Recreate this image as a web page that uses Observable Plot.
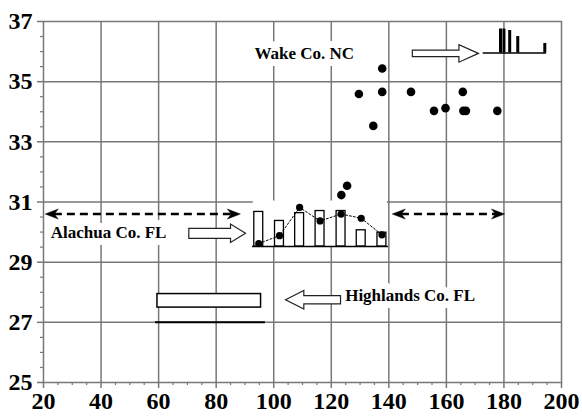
<!DOCTYPE html>
<html>
<head>
<meta charset="utf-8">
<script src="https://cdn.jsdelivr.net/npm/d3@7"></script>
<script src="https://cdn.jsdelivr.net/npm/@observablehq/plot@0.6"></script>
<style>
  html, body { margin: 0; padding: 0; background: #fff; }
</style>
</head>
<body>
<div id="chart"></div>
<script>
// ---- tick labels ----
const xTicks = [20, 40, 60, 80, 100, 120, 140, 160, 180, 200];
const yTicks = [25, 27, 29, 31, 33, 35, 37];
const xGrid = [40, 60, 80, 100, 120, 140, 160, 180];
const yGrid = [27, 29, 31, 33, 35];
const xMinor = d3.range(20, 201, 5).filter(v => v % 20 !== 0);
const yMinor = d3.range(25, 37.01, 0.5).filter(v => !yTicks.includes(v));

// ---- scattered points ----
const pointX = [123.5, 125.5, 129.6, 134.6, 137.7, 137.7, 147.7, 155.7, 159.7, 165.7, 165.9, 166.8, 177.7];
const pointY = [31.23, 31.54, 34.59, 33.53, 34.66, 35.44, 34.66, 34.03, 34.12, 34.66, 34.03, 34.03, 34.03];

// ---- Alachua Co. FL inset ----
const alachuaX = [94.8, 102.0, 109.0, 116.1, 123.4, 130.4, 137.6];
const alachuaDot = [29.62, 29.88, 30.82, 30.37, 30.60, 30.46, 29.91];
const alachuaBar = [30.67, 30.37, 30.63, 30.70, 30.70, 30.06, 29.98];
const alachuaBase = 29.52;
const alachuaBaseRange = [92.6, 139.9];
const alachuaInsetTop = 31;

// ---- Wake Co. NC inset ----
const wakeHistX = [178.8, 180.0, 182.0, 184.8, 194.2];
const wakeHistTop = [36.75, 36.75, 36.70, 36.50, 36.27];
const wakeHistBase = 35.95;
const wakeBaseRange = [172.8, 194.8];

// ---- Highlands Co. FL ----
const highlandsBoxX = [59.6, 95.6];
const highlandsBoxY = [27.49, 27.94];
const highlandsLineX = [58.9, 97.1];
const highlandsLineY = 27.0;

// ---- dashed ranges ----
const dashedY = 30.6;
const dashedRanges = [[20.6, 88.4], [141.2, 180.2]];

// ---- labels and arrows ----
const labelText = ["Wake Co. NC", "Alachua Co. FL", "Highlands Co. FL"];
const labelX = [110.6, 42.6, 147.4];
const labelY = [35.92, 30.0, 27.88];
const arrowTipX = [171.1, 90.2, 104.1];
const arrowTipY = [35.94, 29.96, 27.75];

// ---- build tables ----
const points = pointX.map((x, i) => ({x, y: pointY[i]}));
const alachua = alachuaX.map((x, i) => ({x, dot: alachuaDot[i], bar: alachuaBar[i]}));
const wakeHist = wakeHistX.map((x, i) => ({x, top: wakeHistTop[i]}));
const labels = labelText.map((t, i) => ({t, x: labelX[i], y: labelY[i]}));
const dashed = dashedRanges.map(([a, b]) => ({a, b}));

// ---- custom symbols (styles) ----
function blockArrow(L, H, A, B, dir) {
  const s = dir;
  return {
    draw(ctx) {
      ctx.moveTo(0, 0);
      ctx.lineTo(-s * H, -A);
      ctx.lineTo(-s * H, -B);
      ctx.lineTo(-s * L, -B);
      ctx.lineTo(-s * L, B);
      ctx.lineTo(-s * H, B);
      ctx.lineTo(-s * H, A);
      ctx.closePath();
    }
  };
}
function stealth(dir) {
  const s = dir;
  return {
    draw(ctx) {
      ctx.moveTo(0, 0);
      ctx.lineTo(-s * 13, -5);
      ctx.lineTo(-s * 9, 0);
      ctx.lineTo(-s * 13, 5);
      ctx.closePath();
    }
  };
}
const arrowShapes = [
  blockArrow(66, 19.4, 8.8, 3.3, 1),
  blockArrow(56.7, 15, 9.2, 5, 1),
  blockArrow(55, 18.3, 9.2, 4.2, -1)
];

const gray = "#777777";
const barW = 3.1;
const wakeBarPx = 3;

const arrowMarks = arrowTipX.map((x, i) => Plot.dot([{x, y: arrowTipY[i]}], {
  x: "x", y: "y", r: 5, symbol: arrowShapes[i], fill: "white", stroke: "#222", strokeWidth: 1.2
}));

const chart = Plot.plot({
  width: 582,
  height: 417,
  marginLeft: 43,
  marginRight: 21,
  marginTop: 21,
  marginBottom: 35,
  x: {domain: [20, 200]},
  y: {domain: [25, 37]},
  style: {fontFamily: "'Liberation Serif', 'Times New Roman', serif", background: "white", color: "black"},
  marks: [
    Plot.gridX({ticks: xGrid, stroke: gray, strokeOpacity: 1, strokeWidth: 1.5}),
    Plot.gridY({ticks: yGrid, stroke: gray, strokeOpacity: 1, strokeWidth: 1.5}),
    // Alachua inset white background
    Plot.rect([alachua], {
      x1: d => d3.min(d, e => e.x) - barW / 2,
      x2: d => d3.max(d, e => e.x) + barW / 2,
      y1: () => alachuaBase, y2: () => alachuaInsetTop,
      fill: "white", inset: -1
    }),
    // labels with white halo
    Plot.text(labels, {
      x: "x", y: "y", text: "t", fontSize: 17, fontWeight: "bold",
      fill: "black", stroke: "white", strokeWidth: 14, strokeLinejoin: "round"
    }),
    // Alachua bars
    Plot.rect(alachua, {
      x1: d => d.x - barW / 2, x2: d => d.x + barW / 2,
      y1: () => alachuaBase, y2: "bar",
      fill: "white", stroke: "black", strokeWidth: 1.3
    }),
    Plot.ruleY([alachuaBase], {x1: alachuaBaseRange[0], x2: alachuaBaseRange[1], stroke: "black", strokeWidth: 1.5}),
    Plot.line(alachua, {x: "x", y: "dot", stroke: "black", strokeWidth: 1, strokeDasharray: "2,2"}),
    Plot.dot(alachua, {x: "x", y: "dot", r: 3.6, fill: "black"}),
    // Wake histogram
    Plot.ruleY([wakeHistBase], {x1: wakeBaseRange[0], x2: wakeBaseRange[1], stroke: "black", strokeWidth: 1.5}),
    Plot.ruleX(wakeHist, {x: "x", y1: () => wakeHistBase, y2: "top", stroke: "black", strokeWidth: wakeBarPx}),
    // Highlands
    Plot.rect([0], {
      x1: () => highlandsBoxX[0], x2: () => highlandsBoxX[1],
      y1: () => highlandsBoxY[0], y2: () => highlandsBoxY[1],
      fill: "white", stroke: "black", strokeWidth: 1.5
    }),
    Plot.ruleY([highlandsLineY], {x1: highlandsLineX[0], x2: highlandsLineX[1], stroke: "black", strokeWidth: 2}),
    // dashed double arrows
    Plot.link(dashed, {x1: d => d.a + 3, x2: d => d.b - 3, y1: () => dashedY, y2: () => dashedY,
      stroke: "black", strokeWidth: 2.5, strokeDasharray: "8,5"}),
    Plot.dot(dashed, {x: "a", y: () => dashedY, r: 5, symbol: stealth(-1), fill: "black", stroke: "black", strokeWidth: 0.5}),
    Plot.dot(dashed, {x: "b", y: () => dashedY, r: 5, symbol: stealth(1), fill: "black", stroke: "black", strokeWidth: 0.5}),
    // block arrows
    ...arrowMarks,
    // points
    Plot.dot(points, {x: "x", y: "y", r: 4.3, fill: "black"}),
    // frame & axes
    Plot.frame({stroke: gray, strokeWidth: 1.5}),
    Plot.axisY({ticks: yMinor, tickSize: 3, tickFormat: () => "", stroke: gray, strokeWidth: 1.2}),
    Plot.axisX({ticks: xMinor, tickSize: 3, tickFormat: () => "", stroke: gray, strokeWidth: 1.2}),
    Plot.axisY({ticks: yTicks, tickSize: 6, tickPadding: 5, fontSize: 24, fontWeight: "bold", stroke: gray, strokeWidth: 1.5, fill: "black"}),
    Plot.axisX({ticks: xTicks, tickSize: 6, tickPadding: 3, fontSize: 24, fontWeight: "bold", stroke: gray, strokeWidth: 1.5, fill: "black"})
  ]
});
document.getElementById("chart").appendChild(chart);
</script>
</body>
</html>
